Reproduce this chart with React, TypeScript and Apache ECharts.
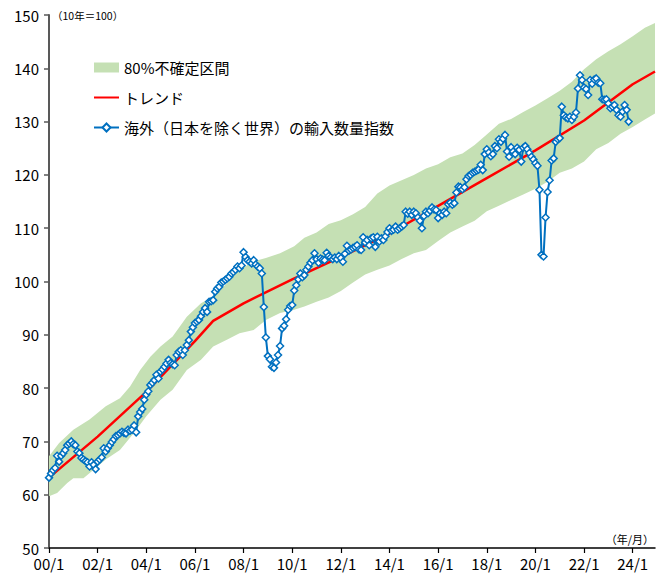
import React, { useEffect, useRef } from 'react';
import * as echarts from 'echarts';

// x axis: months counted from 2000/1 (0 = 2000/1)
const lastMonth = 299;
const tickLabels = ['00/1', '02/1', '04/1', '06/1', '08/1', '10/1', '12/1', '14/1', '16/1', '18/1', '20/1', '22/1', '24/1'];
const tickMonths = tickLabels.map((_, i) => i * 24);

// Monthly import volume index of the world excluding Japan (2010 = 100), one row per year from 2000
const importVolume: number[][] = [
  [63.2, 64.0, 64.6, 65.0, 67.3, 66.2, 67.3, 67.8, 68.4, 69.3, 69.6, 70.0],
  [69.5, 69.3, 68.1, 67.8, 66.9, 66.6, 66.3, 66.1, 65.3, 66.1, 65.6, 64.8],
  [66.2, 66.6, 67.0, 68.7, 68.1, 68.7, 69.3, 69.9, 70.4, 71.0, 71.2, 71.5],
  [71.8, 71.6, 71.5, 72.2, 72.0, 72.2, 73.0, 71.7, 74.7, 75.5, 76.1, 77.8],
  [78.8, 79.4, 80.6, 81.0, 81.5, 82.5, 81.8, 83.1, 83.5, 84.0, 84.6, 85.3],
  [84.7, 84.5, 84.3, 86.2, 86.8, 87.1, 86.2, 87.1, 88.1, 89.0, 90.6, 91.4],
  [92.2, 92.5, 92.8, 93.5, 94.3, 95.0, 94.3, 96.2, 96.3, 96.5, 98.1, 98.7],
  [99.0, 99.8, 100.0, 100.3, 100.6, 100.9, 101.5, 101.8, 102.2, 102.8, 102.5, 103.0],
  [105.5, 104.6, 104.0, 103.7, 103.4, 104.0, 103.2, 102.8, 102.5, 101.5, 95.2, 89.5],
  [86.0, 85.4, 84.0, 83.8, 84.8, 86.2, 87.9, 91.2, 91.7, 92.9, 94.7, 95.4],
  [95.6, 98.3, 99.3, 100.4, 101.5, 100.8, 101.2, 102.2, 102.8, 103.5, 104.0, 105.3],
  [104.2, 103.5, 104.3, 104.1, 104.0, 105.4, 104.8, 104.5, 104.2, 104.5, 104.2, 104.8],
  [104.4, 103.7, 105.2, 106.7, 105.8, 106.0, 106.3, 106.5, 106.8, 106.0, 105.9, 108.3],
  [107.3, 107.8, 106.8, 108.1, 108.3, 106.5, 108.4, 107.5, 108.1, 107.8, 108.5, 109.3],
  [110.0, 109.5, 109.7, 110.3, 109.7, 110.0, 110.3, 110.6, 113.1, 112.7, 113.1, 112.5],
  [113.1, 112.8, 112.0, 111.4, 110.0, 112.3, 113.1, 112.8, 113.3, 113.9, 113.5, 113.4],
  [111.9, 112.8, 112.5, 113.1, 112.8, 114.5, 114.8, 114.4, 114.7, 116.7, 117.8, 117.7],
  [117.3, 117.7, 119.2, 119.8, 120.0, 120.4, 120.6, 120.8, 121.0, 121.9, 120.9, 123.9],
  [124.8, 124.2, 123.5, 123.9, 125.4, 125.0, 126.7, 126.2, 126.8, 127.5, 124.4, 123.4],
  [125.2, 124.4, 123.9, 125.1, 124.7, 122.5, 125.1, 125.4, 124.8, 124.1, 123.4, 122.9],
  [122.2, 121.7, 117.2, 105.0, 104.7, 112.0, 116.8, 119.0, 122.7, 123.1, 126.2, 126.7],
  [126.9, 132.8, 131.2, 130.8, 130.6, 130.9, 130.3, 130.9, 131.7, 136.2, 138.7, 137.8],
  [136.4, 136.1, 135.0, 137.8, 137.1, 137.9, 138.1, 137.3, 137.2, 134.2, 134.1, 134.2],
  [133.4, 132.5, 132.8, 133.1, 132.2, 131.2, 130.9, 131.9, 133.1, 132.2, 130.0],
];

// Trend line
const trendMonths = [0, 24, 48, 72, 81, 96, 120, 144, 168, 192, 216, 240, 264, 288, 299];
const trendValues = [63.2, 70.9, 79.3, 88.8, 92.6, 95.9, 100.4, 104.6, 109.0, 114.2, 119.4, 124.6, 130.2, 137.0, 139.4];

// 80% uncertainty band: upper and lower edges
const bandUpperMonths = [
  0, 5, 12, 20, 28, 35, 40, 45, 50, 55, 61, 68, 75, 81, 88, 94, 101, 107, 114, 121, 126, 132, 138, 144, 150,
  156, 162, 168, 174, 180, 186, 192, 198, 204, 210, 216, 222, 228, 234, 240, 246, 252, 258, 264, 270, 276,
  282, 288, 294, 299,
];
const bandUpper = [
  67.2, 69.7, 72.2, 74.1, 76.6, 78.1, 80.3, 83.4, 85.9, 87.8, 89.7, 93.4, 95.9, 97.2, 99.7, 102.2, 103.8,
  104.4, 105.3, 106.6, 108.2, 109.2, 110.8, 111.5, 112.6, 114.0, 116.5, 118.0, 119.0, 120.0, 121.2, 122.0,
  123.3, 124.0, 125.6, 127.6, 129.6, 130.5, 131.8, 133.0, 134.4, 135.8, 137.5, 139.8, 141.7, 143.2, 144.5,
  146.0, 147.6, 148.5,
];
const bandLowerMonths = [
  0, 4, 9, 12, 17, 22, 28, 35, 42, 48, 55, 61, 68, 75, 81, 88, 94, 101, 107, 114, 121, 126, 132, 138, 144,
  150, 156, 162, 168, 174, 180, 186, 192, 198, 204, 210, 216, 222, 228, 234, 240, 246, 252, 258, 264, 270,
  276, 282, 288, 294, 299,
];
const bandLower = [
  59.7, 60.3, 62.2, 63.1, 63.1, 64.7, 66.6, 68.4, 71.6, 74.7, 77.8, 79.7, 83.4, 85.3, 87.8, 89.1, 90.3, 90.9,
  92.8, 94.1, 94.7, 95.3, 96.2, 97.0, 98.2, 99.8, 101.3, 102.2, 103.0, 104.2, 105.3, 105.9, 107.6, 109.2,
  110.3, 111.4, 113.2, 114.2, 115.3, 116.3, 117.4, 118.7, 120.4, 121.2, 122.5, 124.8, 126.0, 127.7, 129.0,
  130.4, 131.5,
];

const NAME_BAND = '80%不確定区間';
const NAME_TREND = 'トレンド';
const NAME_IMPORT = '海外（日本を除く世界）の輸入数量指数';

const GREEN = '#c5e0b4';
const RED = '#ff0000';
const BLUE = '#0070c0';
const FONT = "'Noto Sans CJK JP', 'Noto Sans', sans-serif";

export default function App() {
  const ref = useRef<HTMLDivElement>(null);

  useEffect(() => {
    if (!ref.current) return;
    const chart = echarts.init(ref.current, null, { renderer: 'svg' });

    const importData = importVolume.flat().map((v, i) => [i, v]);
    const trendData = trendMonths.map((m, i) => [m, trendValues[i]]);
    const bandData = bandUpperMonths.map((m, i) => [m, bandUpper[i]]);

    const option: any = {
      animation: false,
      textStyle: { fontFamily: FONT },
      grid: { left: 49, right: 12, top: 15, bottom: 29 },
      xAxis: {
        type: 'value',
        min: 0,
        max: lastMonth,
        axisLine: { lineStyle: { color: '#000', width: 1.5 } },
        axisTick: { show: true, customValues: tickMonths, length: 5, lineStyle: { color: '#000', width: 1.2 } },
        axisLabel: {
          customValues: tickMonths,
          formatter: (v: number) => tickLabels[Math.round(v / 24)] ?? '',
          fontSize: 15,
          color: '#000',
          margin: 8,
          fontFamily: FONT,
        },
        splitLine: { show: false },
      },
      yAxis: {
        type: 'value',
        min: 50,
        max: 150,
        interval: 10,
        axisLine: { show: true, lineStyle: { color: '#595959', width: 2 } },
        axisTick: { show: true, length: 5, lineStyle: { color: '#595959', width: 1.5 } },
        axisLabel: { fontSize: 15, color: '#000', margin: 10, fontFamily: FONT },
        splitLine: { show: false },
      },
      legend: {
        orient: 'vertical',
        left: 93,
        top: 60,
        padding: 0,
        itemGap: 15,
        itemWidth: 25,
        itemHeight: 10,
        selectedMode: false,
        textStyle: { fontSize: 15, color: '#000', fontFamily: FONT },
        data: [
          { name: NAME_BAND, icon: 'rect' },
          { name: NAME_TREND, itemStyle: { opacity: 0 } },
          { name: NAME_IMPORT },
        ],
      },
      series: [
        {
          name: NAME_BAND,
          type: 'custom',
          silent: true,
          z: 1,
          data: bandData,
          encode: { x: 0, y: 1 },
          itemStyle: { color: GREEN },
          renderItem: (params: any, api: any) => {
            if (params.dataIndex !== 0) return null;
            const upper = bandUpperMonths.map((m, i) => api.coord([m, bandUpper[i]]));
            const lower = bandLowerMonths.map((m, i) => api.coord([m, bandLower[i]])).reverse();
            return {
              type: 'polygon',
              shape: { points: upper.concat(lower) },
              style: { fill: GREEN },
            };
          },
        },
        {
          name: NAME_TREND,
          type: 'line',
          z: 2,
          data: trendData,
          symbol: 'none',
          lineStyle: { color: RED, width: 2.5 },
          itemStyle: { color: RED },
        },
        {
          name: NAME_IMPORT,
          type: 'line',
          z: 3,
          data: importData,
          symbol: 'diamond',
          symbolSize: 7,
          lineStyle: { color: BLUE, width: 2 },
          itemStyle: { color: '#fff', borderColor: BLUE, borderWidth: 1.5 },
        },
      ],
      graphic: [
        {
          type: 'text',
          left: 52,
          top: 10,
          style: { text: '（10年＝100）', fontSize: 10.5, fill: '#000', fontFamily: FONT },
        },
        {
          type: 'text',
          right: 13,
          top: 533,
          style: { text: '（年/月）', fontSize: 11, fill: '#000', fontFamily: FONT },
        },
      ],
    };

    chart.setOption(option);
    return () => chart.dispose();
  }, []);

  return (
    <div
      ref={ref}
      style={{ position: 'absolute', left: 0, top: 0, width: 667, height: 577, background: '#fff' }}
    />
  );
}
